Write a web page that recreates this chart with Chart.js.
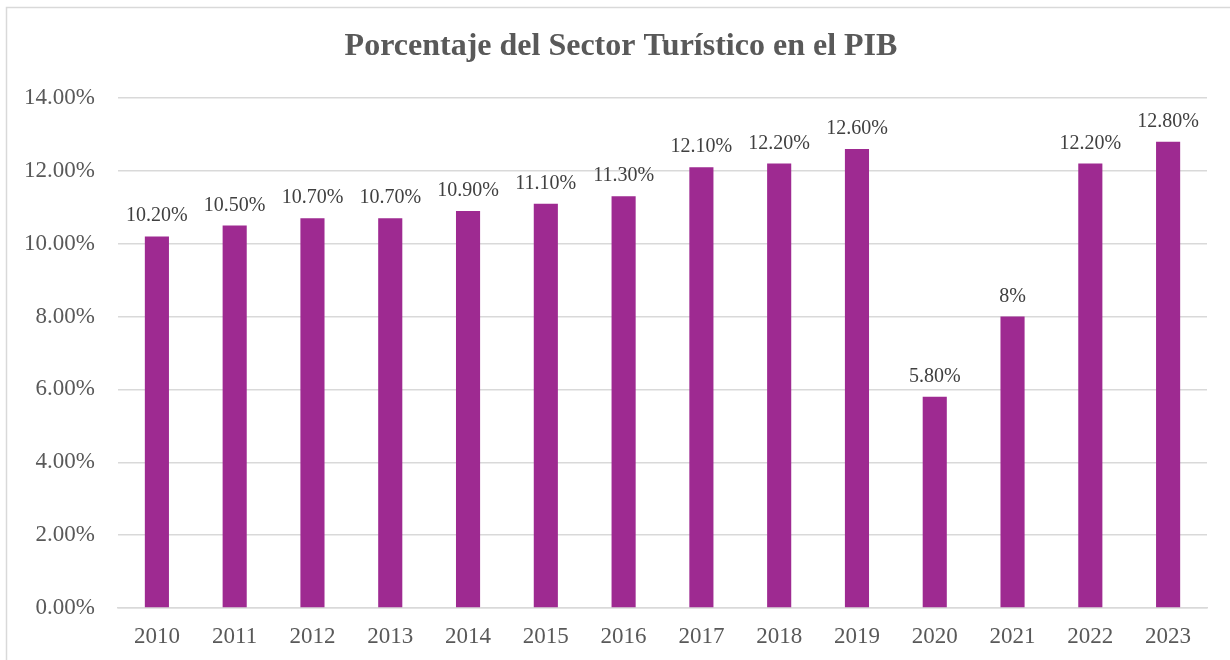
<!DOCTYPE html>
<html>
<head>
<meta charset="utf-8">
<script src="https://cdn.jsdelivr.net/npm/chart.js@4.4.1/dist/chart.umd.min.js"></script>
<style>
html,body{margin:0;padding:0;background:#fff;}
#wrap{width:1230px;height:660px;position:relative;}
</style>
</head>
<body>
<div id="wrap"><canvas id="c" width="1230" height="660"></canvas></div>
<script>
const years = ['2010','2011','2012','2013','2014','2015','2016','2017','2018','2019','2020','2021','2022','2023'];
const shares = [10.2, 10.5, 10.7, 10.7, 10.9, 11.1, 11.3, 12.1, 12.2, 12.6, 5.8, 8, 12.2, 12.8];
const shareLabels = ['10.20%','10.50%','10.70%','10.70%','10.90%','11.10%','11.30%','12.10%','12.20%','12.60%','5.80%','8%','12.20%','12.80%'];
const yTicks = [0, 2, 4, 6, 8, 10, 12, 14];

const serif = '"Liberation Serif", "Times New Roman", serif';

const frame = {
  id: 'frame',
  beforeDraw(chart) {
    const ctx = chart.ctx;
    ctx.save();
    ctx.fillStyle = '#fff';
    ctx.fillRect(0, 0, chart.width, chart.height);
    ctx.strokeStyle = '#D9D9D9';
    ctx.lineWidth = 1.5;
    ctx.strokeRect(6.5, 7.5, 1400, 800);
    ctx.restore();
  }
};

const valueLabels = {
  id: 'valueLabels',
  afterDatasetsDraw(chart) {
    const ctx = chart.ctx;
    const meta = chart.getDatasetMeta(0);
    ctx.save();
    ctx.font = '20px ' + serif;
    ctx.fillStyle = '#404040';
    ctx.textAlign = 'center';
    ctx.textBaseline = 'alphabetic';
    meta.data.forEach((bar, i) => {
      ctx.fillText(shareLabels[i], bar.x, bar.y - 15);
    });
    ctx.restore();
  }
};

new Chart(document.getElementById('c'), {
  type: 'bar',
  data: {
    labels: years,
    datasets: [{
      data: shares,
      backgroundColor: '#9E2A91',
      borderWidth: 0,
      categoryPercentage: 1,
      barPercentage: 0.31
    }]
  },
  options: {
    responsive: false,
    animation: false,
    devicePixelRatio: 1,
    layout: { padding: { left: 12, right: 0, top: 0, bottom: 0 } },
    plugins: {
      legend: { display: false },
      tooltip: { enabled: false },
      title: {
        display: true,
        text: 'Porcentaje del Sector Turístico en el PIB',
        color: '#595959',
        font: { family: serif, size: 32, weight: 'bold' },
        padding: { top: 28, bottom: 31.6 }
      }
    },
    scales: {
      y: {
        min: 0,
        max: 14,
        afterBuildTicks(scale) { scale.ticks = yTicks.map(v => ({ value: v })); },
        afterFit(scale) { scale.width = 106; },
        border: { display: false },
        grid: { color: '#D9D9D9', lineWidth: 1.5, drawTicks: false },
        ticks: {
          padding: 23,
          color: '#595959',
          font: { family: serif, size: 23 },
          callback: v => v.toFixed(2) + '%'
        }
      },
      yRight: {
        position: 'right',
        display: true,
        afterFit(scale) { scale.width = 23; },
        border: { display: false },
        grid: { display: false, drawTicks: false },
        ticks: { display: false }
      },
      x: {
        afterFit(scale) { scale.height = 52; },
        border: { color: '#D9D9D9', width: 1.5 },
        grid: { display: false, drawTicks: false },
        ticks: {
          padding: 15,
          color: '#595959',
          font: { family: serif, size: 23 },
          maxRotation: 0
        }
      }
    }
  },
  plugins: [frame, valueLabels]
});
</script>
</body>
</html>
